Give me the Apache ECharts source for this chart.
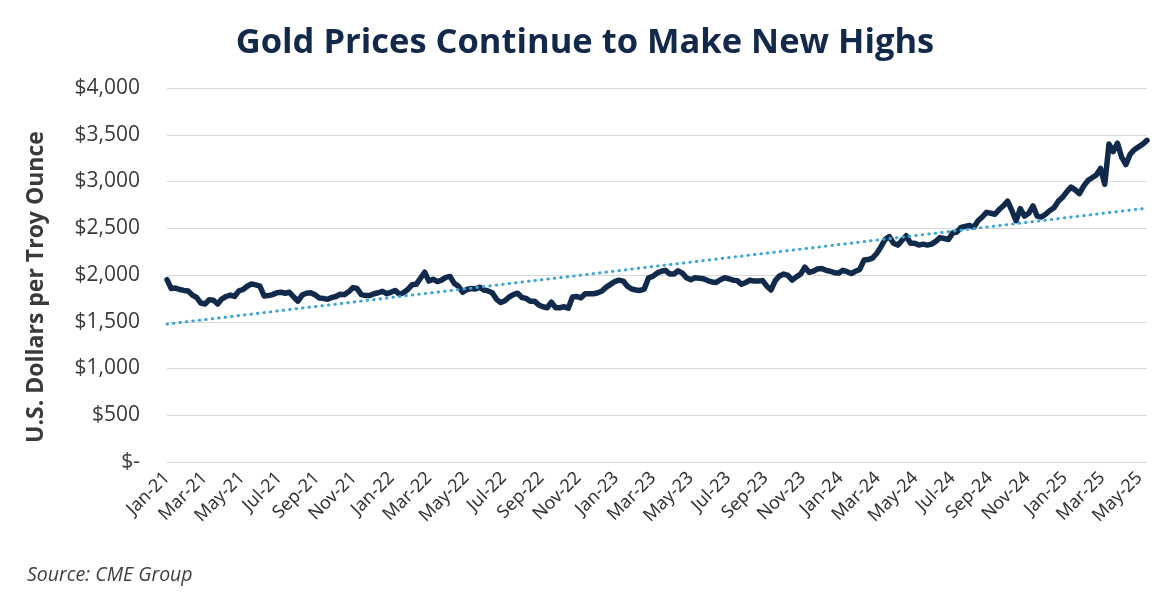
<!DOCTYPE html>
<html>
<head>
<meta charset="utf-8">
<script src="https://cdn.jsdelivr.net/npm/echarts@6/dist/echarts.min.js"></script>
<style>
  html, body { margin: 0; padding: 0; background: #fff; }
  #main { width: 1170px; height: 597px; }
</style>
</head>
<body>
<div id="main"></div>
<script>
// weekly gold futures settle (USD / troy oz), one value per week from Mon 2021-01-04
var gold2021 = [1950, 1855, 1860, 1845, 1835, 1830, 1785, 1760, 1700, 1690, 1735, 1730, 1690,
  1745, 1770, 1785, 1770, 1830, 1845, 1880, 1905, 1895, 1880, 1775, 1780, 1790,
  1810, 1815, 1805, 1815, 1765, 1720, 1785, 1805, 1810, 1790, 1755, 1750, 1740,
  1760, 1770, 1795, 1790, 1820, 1865, 1855, 1790, 1780, 1780, 1800, 1810, 1825];
var gold2022 = [1800, 1815, 1835, 1795, 1810, 1845, 1895, 1900, 1965, 2030, 1935, 1955, 1930,
  1945, 1975, 1985, 1910, 1880, 1815, 1845, 1855, 1850, 1870, 1840, 1830, 1810,
  1740, 1705, 1725, 1765, 1790, 1805, 1760, 1750, 1720, 1720, 1680, 1660, 1650,
  1710, 1650, 1650, 1660, 1645, 1765, 1770, 1755, 1800, 1800, 1800, 1810, 1830];
var gold2023 = [1870, 1900, 1930, 1945, 1935, 1880, 1850, 1840, 1835, 1850, 1970, 1985, 2020,
  2040, 2050, 2010, 2010, 2045, 2020, 1970, 1950, 1970, 1965, 1960, 1940, 1925,
  1920, 1950, 1970, 1960, 1945, 1940, 1900, 1920, 1945, 1935, 1935, 1940, 1880,
  1840, 1940, 1990, 2010, 1995, 1945, 1980, 2010, 2085, 2030, 2040, 2065, 2070];
var gold2024 = [2050, 2040, 2025, 2020, 2050, 2035, 2015, 2040, 2060, 2160, 2165, 2180, 2230,
  2300, 2380, 2410, 2340, 2320, 2370, 2420, 2340, 2340, 2320, 2330, 2320, 2330,
  2360, 2400, 2390, 2380, 2450, 2460, 2510, 2520, 2530, 2510, 2580, 2620, 2670,
  2660, 2650, 2700, 2740, 2790, 2690, 2580, 2710, 2630, 2660, 2740, 2630, 2620, 2650];
var gold2025 = [2690, 2720, 2790, 2830, 2890, 2940, 2910, 2870, 2950, 3010, 3040, 3070, 3140,
  2970, 3400, 3320, 3410, 3260, 3180, 3290, 3340, 3370, 3400, 3440];

// linear trend: value at first and last week
var trendEnds = [1475, 2715];

var tickLabels = ['Jan-21', 'Mar-21', 'May-21', 'Jul-21', 'Sep-21', 'Nov-21',
  'Jan-22', 'Mar-22', 'May-22', 'Jul-22', 'Sep-22', 'Nov-22',
  'Jan-23', 'Mar-23', 'May-23', 'Jul-23', 'Sep-23', 'Nov-23',
  'Jan-24', 'Mar-24', 'May-24', 'Jul-24', 'Sep-24', 'Nov-24',
  'Jan-25', 'Mar-25', 'May-25'];

var firstWeek = Date.UTC(2021, 0, 4);
var week = 7 * 24 * 3600 * 1000;
var gold = [].concat(gold2021, gold2022, gold2023, gold2024, gold2025);
var goldData = gold.map(function (v, i) { return [firstWeek + i * week, v]; });
var lastWeek = firstWeek + (gold.length - 1) * week;
var trendData = [[firstWeek, trendEnds[0]], [lastWeek, trendEnds[1]]];

var myChart = echarts.init(document.getElementById('main'));

var option = {
  backgroundColor: '#fff',
  animation: false,
  title: [{
    text: 'Gold Prices Continue to Make New Highs',
    left: 'center',
    top: 21,
    textStyle: {
      fontFamily: 'Open Sans',
      fontWeight: 700,
      fontSize: 34.5,
      color: '#13294b'
    }
  }, {
    text: 'Source: CME Group',
    left: 22,
    top: 560,
    textStyle: {
      fontFamily: 'Open Sans',
      fontStyle: 'italic',
      fontWeight: 400,
      fontSize: 19.5,
      color: '#404040'
    }
  }],
  graphic: [{
    type: 'text',
    x: 36,
    y: 287,
    rotation: Math.PI / 2,
    style: {
      text: 'U.S. Dollars per Troy Ounce',
      fontFamily: 'Open Sans',
      fontWeight: 'bold',
      fontSize: 23,
      fill: '#3a3a3a',
      textAlign: 'center',
      textVerticalAlign: 'middle'
    }
  }],
  grid: {
    left: 167,
    right: 23,
    top: 88,
    bottom: 135
  },
  xAxis: [{
    type: 'time',
    min: firstWeek,
    max: lastWeek,
    show: false
  }, {
    // label-only axis, one slot per tick label
    type: 'value',
    position: 'bottom',
    min: 0,
    max: 26.2,
    interval: 1,
    axisLine: { show: false },
    axisTick: { show: false },
    splitLine: { show: false },
    axisLabel: {
      rotate: 45,
      margin: 13,
      fontFamily: 'Noto Sans',
      fontSize: 18,
      color: '#333',
      formatter: function (v) {
        return tickLabels[v] || '';
      }
    }
  }],
  yAxis: {
    type: 'value',
    min: 0,
    max: 4000,
    interval: 500,
    axisLine: { show: false },
    axisTick: { show: false },
    splitLine: { lineStyle: { color: '#d9d9d9', width: 1 } },
    axisLabel: {
      margin: 27,
      fontFamily: 'Open Sans',
      fontSize: 21,
      color: '#3a3a3a',
      formatter: function (v) {
        return v === 0 ? '$-' : '$' + v.toLocaleString('en-US');
      }
    }
  },
  series: [{
    name: 'Gold',
    type: 'line',
    xAxisIndex: 0,
    data: goldData,
    showSymbol: false,
    lineStyle: { color: '#112a4c', width: 5.5, join: 'round', cap: 'round' },
    itemStyle: { color: '#112a4c' },
    z: 2
  }, {
    name: 'Trend',
    type: 'line',
    xAxisIndex: 0,
    data: trendData,
    showSymbol: false,
    lineStyle: { color: '#3da5d9', width: 3, type: [0.5, 6], cap: 'round' },
    z: 3
  }]
};

myChart.setOption(option);

window.onresize = function () {
  myChart.resize();
};
</script>
</body>
</html>
